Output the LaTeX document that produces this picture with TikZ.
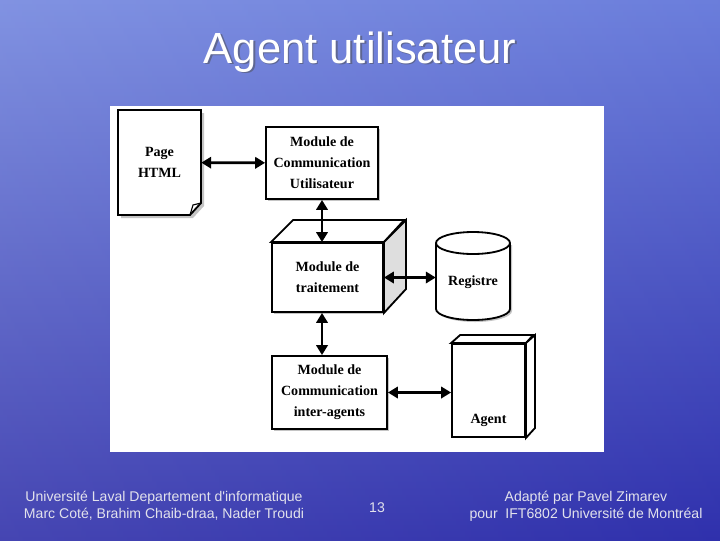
\documentclass[tikz,border=0pt]{standalone}
\usepackage{fontspec}
\setmainfont{Liberation Serif}
\newfontfamily\slidefont{Liberation Sans}
\usetikzlibrary{arrows.meta,calc,positioning,shadows}
\definecolor{seatop}{RGB}{112,132,222}
\definecolor{seamid}{RGB}{72,82,204}
\definecolor{seabot}{RGB}{44,44,168}
\definecolor{footgray}{RGB}{226,226,236}
\definecolor{boxshadow}{RGB}{196,196,196}
\definecolor{sideface}{RGB}{222,222,222}

\begin{document}
\begin{tikzpicture}[x=0.025cm,y=-0.025cm,>={Triangle[length=7pt,width=8pt]},
  modbox/.style={draw,fill=white,line width=1.3pt,align=center,inner sep=0pt,
    font=\bfseries\fontsize{10}{15}\selectfont,
    drop shadow={shadow xshift=1.2pt,shadow yshift=-1.2pt,fill=boxshadow,opacity=1}},
  link/.style={<->,line width=2pt},
  foot/.style={text=footgray,align=center,font=\slidefont\fontsize{10}{12.2}\selectfont}]
  \useasboundingbox (0,0) rectangle (720,540);
  % sea background
  \shade[top color=seatop,middle color=seamid,bottom color=seabot] (0,0) rectangle (720,540);
  \shade[left color=white,right color=seamid,opacity=0.12] (0,0) rectangle (720,540);
  \fill[white] (110,106) rectangle (604,452);
  \node[text=black!70,opacity=0.5,font=\slidefont\fontsize{31}{36}\selectfont] at (361.5,53.5) {Agent utilisateur};
  \node[text=white,font=\slidefont\fontsize{31}{36}\selectfont] (title) at (360,52) {Agent utilisateur};

  % page html with folded corner
  \fill[boxshadow] (121,113) -- (204,113) -- (204,206) -- (193,218) -- (121,218) -- cycle;
  \draw[fill=white,line width=1.3pt] (118,110) -- (201,110) -- (201,203) -- (190,215) -- (118,215) -- cycle;
  \draw[line width=0.8pt] (190,215) -- (193,205) -- (201,203);
  \node[align=center,font=\bfseries\fontsize{10}{15}\selectfont,minimum width=2.075cm,minimum height=2.625cm] (html) at (159.5,162.5) {Page\\HTML};

  \node[modbox,minimum width=2.8cm,minimum height=1.8cm] (mcu) at (322,163) {Module de\\Communication\\Utilisateur};

  % processing module as a box
  \node[modbox,minimum width=2.775cm,minimum height=1.725cm] (mdt) at (327.5,277.5) {Module de\\traitement};
  \draw[fill=white,line width=1.3pt] (mdt.north west) -- ++(22,-22) -- ++(111,0) -- (mdt.north east) -- cycle;
  \draw[fill=sideface,line width=1.3pt] (mdt.north east) -- ++(22,-22) -- ++(0,69) -- (mdt.south east) -- cycle;

  % registry
  \fill[boxshadow] (438,245) -- (438,311) arc[start angle=180,end angle=360,x radius=0.925cm,y radius=0.275cm] -- (512,245) -- cycle;
  \draw[fill=white,line width=1.3pt] (436,243) -- (436,309) arc[start angle=180,end angle=360,x radius=0.925cm,y radius=0.275cm] -- (510,243);
  \draw[fill=white,line width=1.3pt] (473,243) ellipse[x radius=0.925cm,y radius=0.275cm];
  \node[font=\bfseries\fontsize{10}{15}\selectfont,minimum width=1.85cm,inner sep=0pt] (reg) at (473,282) {Registre};

  \node[modbox,minimum width=2.875cm,minimum height=1.825cm] (mci) at (329.5,392.5) {Module de\\Communication\\inter-agents};

  % other agent
  \node[draw,fill=white,line width=1.3pt,minimum width=1.825cm,minimum height=2.325cm,
    label={[font=\bfseries\fontsize{10}{15}\selectfont,anchor=south,yshift=0.15cm]south:Agent}] (agent) at (488.5,390.5) {};
  \draw[fill=white,line width=1.3pt] (agent.north west) -- ++(9,-8) -- ++(73,0) -- (agent.north east) -- cycle;
  \draw[fill=white,line width=1.3pt] (agent.north east) -- ++(9,-8) -- ++(0,93) -- (agent.south east) -- cycle;

  \draw[link] (html) -- (mcu);
  \draw[link] (mcu.south) -- (mcu.south |- mdt.north);
  \draw[link] (mdt.east) -- (mdt.east -| reg.west);
  \draw[link] (mcu.south |- mdt.south) -- (mcu.south |- mci.north);
  \draw[link] (mci.east) -- (mci.east -| agent.west);

  \node[foot] (credits) at (164,506) {Université Laval Departement d'informatique\\Marc Coté, Brahim Chaib-draa, Nader Troudi};
  \node[foot] (pagenum) at (377,508) {13};
  \node[foot] (adapt) at (586,506) {Adapté par Pavel Zimarev\\pour\ \ IFT6802 Université de Montréal};
\end{tikzpicture}
\end{document}
